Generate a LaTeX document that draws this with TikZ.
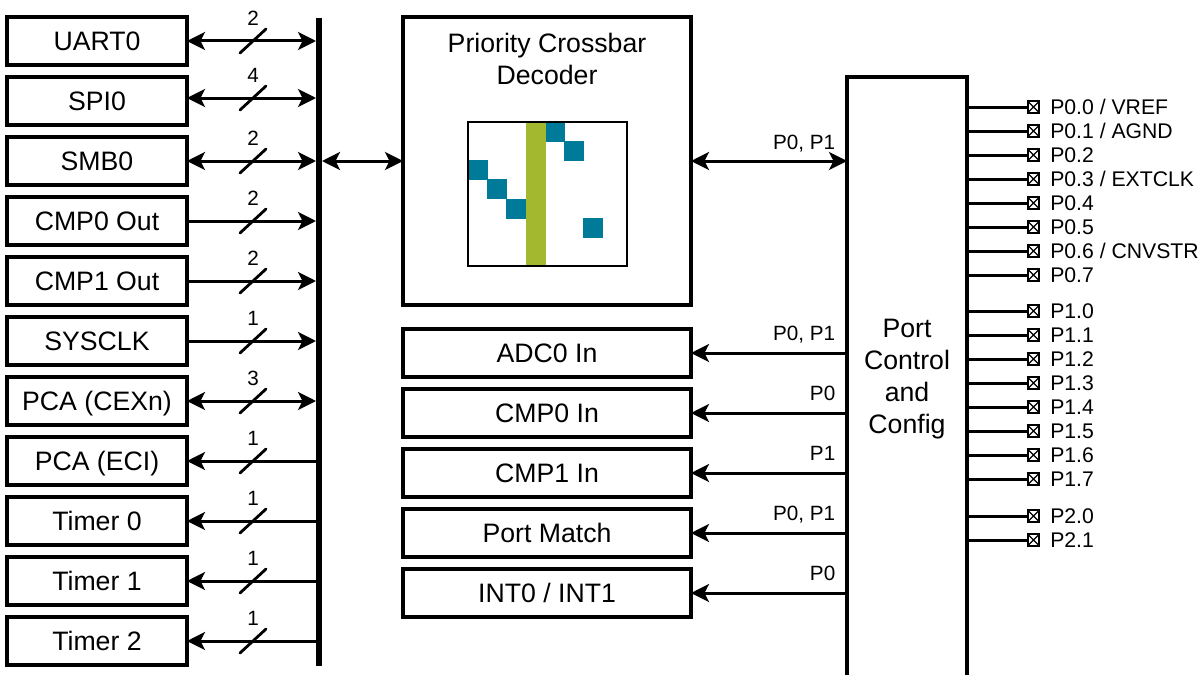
\documentclass[tikz,border=0pt]{standalone}
\usepackage{fontspec}
\setmainfont{Liberation Sans}
\usetikzlibrary{arrows.meta}
\definecolor{teal}{RGB}{0,122,153}
\definecolor{leaf}{RGB}{163,184,46}
\tikzset{
  x=0.75pt,y=-0.75pt,
  blockbox/.style={draw,line width=2.3pt,minimum width=135pt,minimum height=36pt,inner sep=0pt,outer sep=0pt,font=\fontsize{20}{24}\selectfont,text height=14.3pt,text depth=0pt},
  midbox/.style={blockbox,minimum width=216pt},
  wire/.style={line width=2.25pt,line cap=butt},
  tipr/.style={-{Stealth[length=13.5pt,width=13.5pt,inset=3.4pt]}},
  tipl/.style={{Stealth[length=13.5pt,width=13.5pt,inset=3.4pt]}-},
  tipb/.style={{Stealth[length=13.5pt,width=13.5pt,inset=3.4pt]}-{Stealth[length=13.5pt,width=13.5pt,inset=3.4pt]}},
  slashmark/.style={line width=2.1pt,line cap=round},
  small/.style={font=\fontsize{15.5}{16}\selectfont,inner sep=0pt},
  pinlabel/.style={font=\fontsize{15.9}{16}\selectfont,inner sep=0pt},
  pinbox/.style={draw,line width=1.4pt,minimum size=8.5pt,inner sep=0pt,outer sep=0pt,
    path picture={\draw[line width=1pt] (path picture bounding box.north west)--(path picture bounding box.south east)
      (path picture bounding box.north east)--(path picture bounding box.south west);}},
  cell/.style={fill=teal,draw=none,minimum size=14.6pt,inner sep=0pt,outer sep=0pt},
}
\begin{document}
\begin{tikzpicture}
\useasboundingbox (0,0) rectangle (1201,674);
\clip (0,0) rectangle (1201,674);
% bus
\node[fill=black,minimum width=4.5pt,minimum height=486pt,inner sep=0pt,outer sep=0pt] (bus) at (319,342) {};
% left blocks
\foreach \name/\txt/\yy/\ay/\tip/\num in {
 a/UART0/41/41/tipb/2, b/SPI0/101/98/tipb/4, c/SMB0/161/161/tipb/2,
 d/CMP0 Out/221/221/tipr/2, e/CMP1 Out/281/281/tipr/2, f/SYSCLK/341/341/tipr/1,
 g/PCA (CEXn)/401/401/tipb/3, h/PCA (ECI)/461/461/tipl/1,
 i/Timer 0/521/521/tipl/1, j/Timer 1/581/581/tipl/1, k/Timer 2/641/641/tipl/1}{
  \node[blockbox] (\name) at (97,\yy) {\txt};
  \coordinate (\name m) at (253,\ay);
  \draw[wire,\tip] (\name.east |- \name m) -- (bus.west |- \name m);
  \draw[slashmark] ([shift={(-13,12)}]\name m) -- ([shift={(13,-12)}]\name m);
  \node[small] at ([yshift=17.2pt]\name m) {\num};
}
% crossbar
\node[draw,line width=2.3pt,minimum size=216pt,inner sep=0pt,outer sep=0pt] (xbar) at (547,161) {};
\node[font=\fontsize{20}{24}\selectfont,align=center,inner sep=0pt] (xbartxt) at (547,59) {Priority Crossbar\\Decoder};
\draw[wire,tipb] (bus.east |- xbar.west) -- (xbar.west);
% matrix
\node[fill=leaf,minimum width=15pt,minimum height=108pt,inner sep=0pt,outer sep=0pt] (stripe) at (536,194) {};
\foreach \n/\cx/\cy in {m1/555.5/132,m2/574/151,m3/478.5/170,m4/497/189,m5/516/209,m6/593/228}{
  \node[cell] (\n) at (\cx,\cy) {};
}
\node[draw,line width=1.3pt,minimum width=119pt,minimum height=108pt,inner sep=0pt,outer sep=0pt] (matrix) at (547.5,194) {};
% port control
\node[draw,line width=2.3pt,minimum width=90pt,minimum height=480pt,inner sep=0pt,outer sep=0pt] (port) at (907,397) {};
\node[font=\fontsize{20}{24}\selectfont,align=center,inner sep=0pt] (porttxt) at (907,379.5) {Port\\Control\\and\\Config};
\draw[wire,tipb] (xbar.east) -- (port.west |- xbar.east);
\node[small,anchor=base east] (lab0) at (835.5,149.5) {P0, P1};
% middle blocks
\foreach \name/\txt/\yy/\lbl in {
 n/{ADC0 In}/353/{P0, P1}, o/{CMP0 In}/413/P0, p/{CMP1 In}/473/P1, q/{Port Match}/533/{P0, P1}, r/{INT0 / INT1}/593/P0}{
  \node[midbox] (\name) at (547,\yy) {\txt};
  \draw[wire,tipl] (\name.east) -- (port.west |- \name.east);
  \node[small,anchor=base east] at (835.5,\yy-12.5) {\lbl};
}
% pins
\foreach \pn/\lbl/\yy in {
 p0/{P0.0 / VREF}/107, p1/{P0.1 / AGND}/131, p2/P0.2/155, p3/{P0.3 / EXTCLK}/179,
 p4/P0.4/203, p5/P0.5/227, p6/{P0.6 / CNVSTR}/251, p7/P0.7/275,
 p8/P1.0/311, p9/P1.1/335, p10/P1.2/359, p11/P1.3/383,
 p12/P1.4/407, p13/P1.5/431, p14/P1.6/455, p15/P1.7/479,
 p16/P2.0/516, p17/P2.1/540}{
  \node[pinbox] (\pn) at (1033.5,\yy) {};
  \draw[wire] (port.east |- \pn.west) -- (\pn.west);
  \node[pinlabel,anchor=base west] at (1050,\yy+7) {\lbl};
}
\end{tikzpicture}
\end{document}
